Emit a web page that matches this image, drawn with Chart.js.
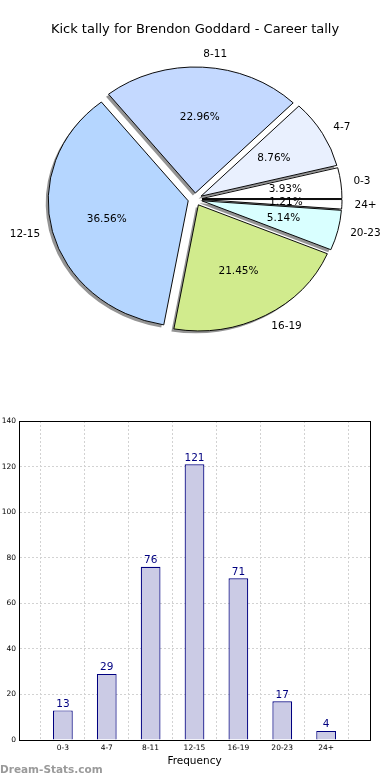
<!DOCTYPE html>
<html>
<head>
<meta charset="utf-8">
<script src="https://cdn.jsdelivr.net/npm/chart.js@4.4.1/dist/chart.umd.min.js"></script>
<style>
body { margin: 0; background: #fff; width: 390px; height: 780px; position: relative; overflow: hidden; }
#pieWrap { position: absolute; left: 0; top: 0; width: 390px; height: 400px; }
#barWrap { position: absolute; left: 0; top: 400px; width: 390px; height: 380px; }
#mark { position: absolute; left: 0; top: 763px; font: bold 10.5px "DejaVu Sans", sans-serif; color: #9a9a9a; }
</style>
</head>
<body>
<div id="pieWrap"><canvas id="pieChart"></canvas></div>
<div id="barWrap"><canvas id="barChart"></canvas></div>
<div id="mark">Dream-Stats.com</div>
<script>
// data
const categories = ['0-3', '4-7', '8-11', '12-15', '16-19', '20-23', '24+'];
const kickCounts = [13, 29, 76, 121, 71, 17, 4];
const sliceColors = ['#ffffff', '#e9f0fe', '#c4d9ff', '#b5d6ff', '#d1eb8d', '#d9ffff', '#ffffff'];
const yMax = 140;
const yStep = 20;
const chartTitle = 'Kick tally for Brendon Goddard - Career tally';
const xTitle = 'Frequency';

const FONT = '"DejaVu Sans", sans-serif';
Chart.defaults.font.family = FONT;
Chart.defaults.color = '#000';

const PIE_R = 140;     // horizontal radius
const SQUASH = 0.90;   // pie is an ellipse in the original
const EXPLODE = 7;     // px each slice is pushed out

const total = kickCounts.reduce((a, b) => a + b, 0);

// original goes counter-clockwise from 3 o'clock, Chart.js goes clockwise
const pieLabels = categories.slice().reverse();
const pieValues = kickCounts.slice().reverse();
const pieColors = sliceColors.slice().reverse();

const ellipsePie = {
    id: 'ellipsePie',
    beforeDatasetsDraw(chart) {
        const ctx = chart.ctx;
        const arcs = chart.getDatasetMeta(0).data;
        const cx = arcs[0].x, cy = arcs[0].y;
        // cancel Chart.js's radius/angle tweak for offset arcs so they look like plain exploded wedges
        arcs.forEach(a => {
            if (!a.$orig) a.$orig = { s: a.startAngle, e: a.endAngle };
            const ro = (a.options.offset / 4) * (1 - Math.sin(Math.min(Math.PI, a.circumference)));
            const trim = ro / (2 * Math.PI * PIE_R);
            a.outerRadius = PIE_R - ro;
            a.startAngle = a.$orig.s - trim;
            a.endAngle = a.$orig.e + trim;
        });
        ctx.save();
        ctx.translate(cx, cy);
        ctx.scale(1, SQUASH);
        ctx.translate(-cx, -cy);
        // shadows under the wedges
        ctx.save();
        ctx.translate(-2.5, 2.5 / SQUASH);
        ctx.fillStyle = 'rgba(0,0,0,0.42)';
        arcs.forEach(a => {
            const mid = (a.$orig.s + a.$orig.e) / 2;
            const px = cx + Math.cos(mid) * EXPLODE, py = cy + Math.sin(mid) * EXPLODE;
            ctx.beginPath();
            ctx.moveTo(px, py);
            ctx.arc(px, py, PIE_R, a.$orig.s, a.$orig.e);
            ctx.closePath();
            ctx.fill();
        });
        ctx.restore();
    },
    afterDatasetsDraw(chart) {
        const ctx = chart.ctx;
        ctx.restore();
        const arcs = chart.getDatasetMeta(0).data;
        ctx.save();
        ctx.font = '10.5px ' + FONT;
        ctx.fillStyle = '#000';
        ctx.textBaseline = 'middle';
        arcs.forEach((a, i) => {
            const mid = (a.$orig.s + a.$orig.e) / 2;
            const c = Math.cos(mid), s = Math.sin(mid);
            ctx.textAlign = c >= 0 ? 'left' : 'right';
            ctx.fillText(pieLabels[i], a.x + 1.14 * PIE_R * c, a.y + 1.15 * PIE_R * SQUASH * s);
            ctx.textAlign = 'center';
            const pct = (pieValues[i] / total * 100).toFixed(2) + '%';
            ctx.fillText(pct, a.x + 0.65 * PIE_R * c, a.y + 0.65 * PIE_R * SQUASH * s);
        });
        ctx.restore();
    }
};

new Chart(document.getElementById('pieChart'), {
    type: 'pie',
    data: {
        labels: pieLabels,
        datasets: [{
            data: pieValues,
            backgroundColor: pieColors,
            borderColor: '#000',
            borderWidth: 1,
            offset: EXPLODE * 4,
            clip: false
        }]
    },
    options: {
        responsive: true,
        maintainAspectRatio: false,
        animation: false,
        events: [],
        rotation: 90,
        radius: PIE_R,
        layout: { padding: { left: 0, right: 0, top: 0, bottom: 39 } },
        plugins: {
            legend: { display: false },
            tooltip: { enabled: false },
            title: {
                display: true,
                text: chartTitle,
                color: '#000',
                font: { size: 13, weight: 'normal' },
                padding: { top: 22, bottom: 0 }
            }
        }
    },
    plugins: [ellipsePie]
});

// bar chart: empty slots at both ends give the half-step margins of the original axis
const barLabels = ['', ...categories, ''];
const barValues = [null, ...kickCounts, null];

const barValueLabels = {
    id: 'barValueLabels',
    afterDatasetsDraw(chart) {
        const ctx = chart.ctx;
        ctx.save();
        ctx.font = '10.5px ' + FONT;
        ctx.fillStyle = '#000080';
        ctx.textAlign = 'center';
        ctx.textBaseline = 'bottom';
        chart.getDatasetMeta(0).data.forEach((bar, i) => {
            if (barValues[i] == null) return;
            ctx.fillText(barValues[i], bar.x, bar.y - 1);
        });
        ctx.restore();
    }
};

const frame = {
    id: 'frame',
    afterDraw(chart) {
        const { left, top, right, bottom } = chart.chartArea;
        const ctx = chart.ctx;
        ctx.save();
        ctx.strokeStyle = '#000';
        ctx.lineWidth = 1;
        ctx.strokeRect(Math.round(left) + 0.5, Math.round(top) + 0.5, Math.round(right - left), Math.round(bottom - top));
        ctx.restore();
    }
};

const gridOpts = { color: '#d2d2d2', lineWidth: 1, drawTicks: false };

new Chart(document.getElementById('barChart'), {
    type: 'bar',
    data: {
        labels: barLabels,
        datasets: [{
            data: barValues,
            backgroundColor: '#cbcbe5',
            borderColor: '#000080',
            borderWidth: 1.2,
            barPercentage: 0.45,
            categoryPercentage: 1
        }]
    },
    options: {
        responsive: true,
        maintainAspectRatio: false,
        animation: false,
        events: [],
        layout: { padding: { top: 21, right: 20, left: 0, bottom: 0 } },
        plugins: { legend: { display: false }, tooltip: { enabled: false } },
        scales: {
            x: {
                offset: false,
                z: 1,
                grid: gridOpts,
                border: { color: '#000', width: 1, dash: [2, 2] },
                ticks: { font: { size: 7.5 }, padding: 4, autoSkip: false, maxRotation: 0 },
                title: { display: true, text: xTitle, font: { size: 10.5 }, padding: { top: 0, bottom: 12.7 } },
                afterFit: s => { s.height = 40; }
            },
            y: {
                min: 0,
                max: yMax,
                z: 1,
                grid: gridOpts,
                border: { color: '#000', width: 1, dash: [2, 2] },
                ticks: { stepSize: yStep, font: { size: 7.5 }, padding: 3 },
                afterFit: s => { s.width = 19; }
            }
        }
    },
    plugins: [barValueLabels, frame]
});
</script>
</body>
</html>
